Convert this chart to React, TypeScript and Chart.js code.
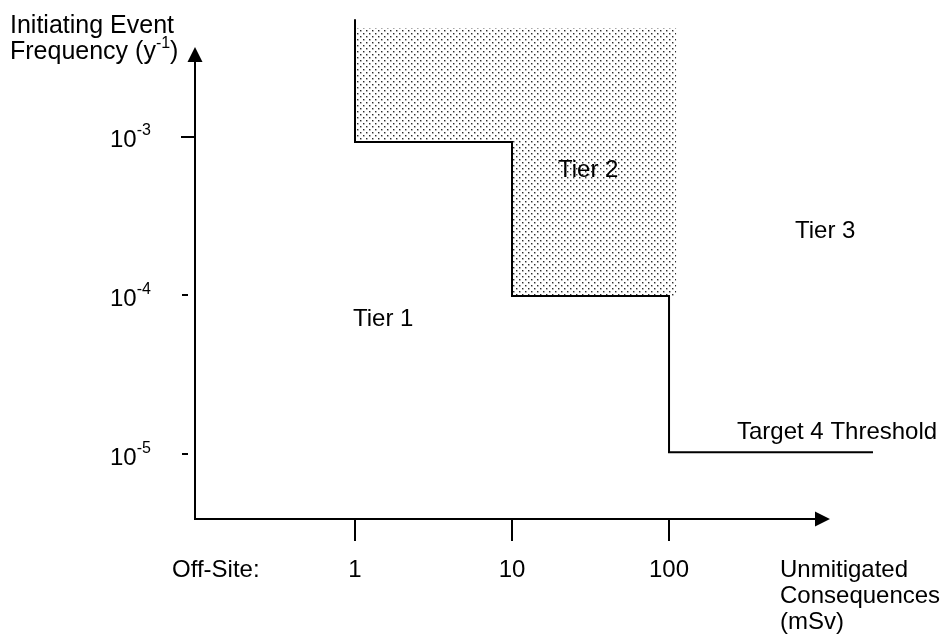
import React, { useEffect, useRef } from "react";
import { Chart, registerables } from "chart.js";

Chart.register(...registerables);

// ---- data ----
const consequenceTicks = [1, 10, 100]; // mSv
const consequenceTickLabels = ["1", "10", "100"];
const frequencyTicks = [1e-3, 1e-4, 1e-5]; // per year
const frequencyTickExponents = ["-3", "-4", "-5"];

// Tier 1 / Tier 3 boundary (stepped line): each point starts a new level
const boundaryX = [1, 10, 100, 1990];
const boundaryY = [5.5e-3, 9.3e-4, 1.0e-4, 1.04e-5];

// Tier 2 shaded band (closed polygon)
const tier2X = [1, 111, 111, 10, 10, 1, 1];
const tier2Y = [4.85e-3, 4.85e-3, 1.0e-4, 1.0e-4, 9.3e-4, 9.3e-4, 4.85e-3];

// axis extents
const xAxisMin = Math.pow(10, -1.019);
const xAxisMax = Math.pow(10, 3.471);
const xAxisArrowEnd = Math.pow(10, 3.025);
const yAxisMin = Math.pow(10, -5.4025);
const yAxisMax = Math.pow(10, -2.264);

const regionLabels = ["Tier 1", "Tier 2", "Tier 3", "Target 4 Threshold"];

const FONT = '"Liberation Sans", Arial, Helvetica, sans-serif';

function makeDotPattern(ctx: CanvasRenderingContext2D) {
  const c = document.createElement("canvas");
  c.width = 6;
  c.height = 6;
  const g = c.getContext("2d")!;
  g.fillStyle = "#ffffff";
  g.fillRect(0, 0, 6, 6);
  const dot = (x: number, y: number) => {
    g.fillStyle = "#a8a8a8";
    g.fillRect(x + 1, y, 1, 1);
    g.fillRect(x, y + 1, 1, 1);
    g.fillStyle = "#d0d0d0";
    g.fillRect(x + 1, y + 1, 1, 1);
    g.fillStyle = "#2a2a2a";
    g.fillRect(x, y, 1, 1);
  };
  dot(0, 0);
  dot(3, 3);
  return ctx.createPattern(c, "repeat") as CanvasPattern;
}

function textWithSup(
  ctx: CanvasRenderingContext2D,
  base: string,
  sup: string,
  after: string,
  x: number,
  baseline: number,
  size: number,
  supSize: number,
  rise: number
) {
  ctx.textAlign = "left";
  ctx.textBaseline = "alphabetic";
  ctx.font = `${size}px ${FONT}`;
  ctx.fillText(base, x, baseline);
  let cx = x + ctx.measureText(base).width;
  ctx.font = `${supSize}px ${FONT}`;
  ctx.fillText(sup, cx, baseline - rise);
  cx += ctx.measureText(sup).width;
  if (after) {
    ctx.font = `${size}px ${FONT}`;
    ctx.fillText(after, cx, baseline);
  }
}

const overlayPlugin = {
  id: "overlay",
  afterDatasetsDraw(chart: any) {
    const ctx: CanvasRenderingContext2D = chart.ctx;
    const xs = chart.scales.x;
    const ys = chart.scales.y;
    const x0 = xs.getPixelForValue(xAxisMin);
    const y0 = ys.getPixelForValue(yAxisMin);
    ctx.save();
    ctx.strokeStyle = "#000";
    ctx.fillStyle = "#000";
    ctx.lineWidth = 2;
    ctx.lineCap = "butt";

    // y axis with arrow
    const yTip = ys.top + 27;
    ctx.beginPath();
    ctx.moveTo(x0, y0 + 1);
    ctx.lineTo(x0, yTip + 12);
    ctx.stroke();
    ctx.beginPath();
    ctx.moveTo(x0, yTip);
    ctx.lineTo(x0 - 7.5, yTip + 15);
    ctx.lineTo(x0 + 7.5, yTip + 15);
    ctx.closePath();
    ctx.fill();

    // x axis with arrow
    const xTip = xs.getPixelForValue(xAxisArrowEnd);
    ctx.beginPath();
    ctx.moveTo(x0 - 1, y0);
    ctx.lineTo(xTip - 12, y0);
    ctx.stroke();
    ctx.beginPath();
    ctx.moveTo(xTip, y0);
    ctx.lineTo(xTip - 15, y0 - 7.5);
    ctx.lineTo(xTip - 15, y0 + 7.5);
    ctx.closePath();
    ctx.fill();

    // x ticks + labels
    ctx.font = `24px ${FONT}`;
    ctx.textAlign = "center";
    ctx.textBaseline = "alphabetic";
    consequenceTicks.forEach((v, i) => {
      const px = Math.round(xs.getPixelForValue(v));
      ctx.beginPath();
      ctx.moveTo(px, y0);
      ctx.lineTo(px, y0 + 22);
      ctx.stroke();
      ctx.fillText(consequenceTickLabels[i], px, y0 + 58);
    });
    ctx.textAlign = "left";
    ctx.fillText("Off-Site:", 172, y0 + 58);
    ctx.fillText("Unmitigated", 780, y0 + 58);
    ctx.fillText("Consequences", 780, y0 + 84);
    ctx.fillText("(mSv)", 780, y0 + 110);

    // y ticks + labels
    frequencyTicks.forEach((v, i) => {
      const py = Math.round(ys.getPixelForValue(v));
      ctx.beginPath();
      if (i === 0) {
        ctx.moveTo(x0 - 14, py);
        ctx.lineTo(x0, py);
      } else {
        ctx.moveTo(x0 - 13, py - 1);
        ctx.lineTo(x0 - 7, py - 1);
      }
      ctx.stroke();
      textWithSup(ctx, "10", frequencyTickExponents[i], "", 110, py + 10, 24, 16, 12);
    });

    // y title
    ctx.font = `25px ${FONT}`;
    ctx.textAlign = "left";
    ctx.fillText("Initiating Event", 10, 33);
    textWithSup(ctx, "Frequency (y", "-1", ")", 10, 59, 25, 16, 11);

    // region labels
    ctx.font = `24px ${FONT}`;
    ctx.textAlign = "left";
    ctx.fillText(regionLabels[0], 353, 326);
    ctx.fillText(regionLabels[1], 558, 177);
    ctx.fillText(regionLabels[2], 795, 238);
    ctx.fillText(regionLabels[3], 737, 439);

    ctx.restore();
  },
};

export default function App() {
  const ref = useRef<HTMLCanvasElement | null>(null);

  useEffect(() => {
    const canvas = ref.current;
    if (!canvas) return;
    const ctx = canvas.getContext("2d")!;
    const pattern = makeDotPattern(ctx);

    const chart = new Chart(ctx, {
      type: "line",
      data: {
        datasets: [
          {
            label: "Tier 2",
            data: tier2X.map((x, i) => ({ x, y: tier2Y[i] })),
            borderColor: "rgba(0,0,0,0)",
            borderWidth: 0,
            backgroundColor: pattern,
            fill: "shape",
            pointRadius: 0,
            tension: 0,
            order: 2,
          },
          {
            label: "Boundary",
            data: boundaryX.map((x, i) => ({ x, y: boundaryY[i] })),
            borderColor: "#000",
            borderWidth: 2,
            stepped: "after",
            fill: false,
            pointRadius: 0,
            tension: 0,
            clip: false,
            order: 1,
          },
        ],
      },
      options: {
        responsive: false,
        maintainAspectRatio: false,
        devicePixelRatio: 1,
        animation: false,
        events: [],
        layout: { padding: { left: 195, right: 51, top: 20, bottom: 115 } },
        plugins: {
          legend: { display: false },
          tooltip: { enabled: false },
        },
        scales: {
          x: {
            type: "logarithmic",
            min: xAxisMin,
            max: xAxisMax,
            bounds: "data",
            display: false,
          },
          y: {
            type: "logarithmic",
            min: yAxisMin,
            max: yAxisMax,
            bounds: "data",
            display: false,
          },
        },
      },
      plugins: [overlayPlugin],
    } as any);

    return () => chart.destroy();
  }, []);

  return (
    <div style={{ position: "fixed", left: 0, top: 0, width: 951, height: 634, background: "#fff" }}>
      <canvas ref={ref} width={951} height={634} style={{ display: "block" }} />
    </div>
  );
}
